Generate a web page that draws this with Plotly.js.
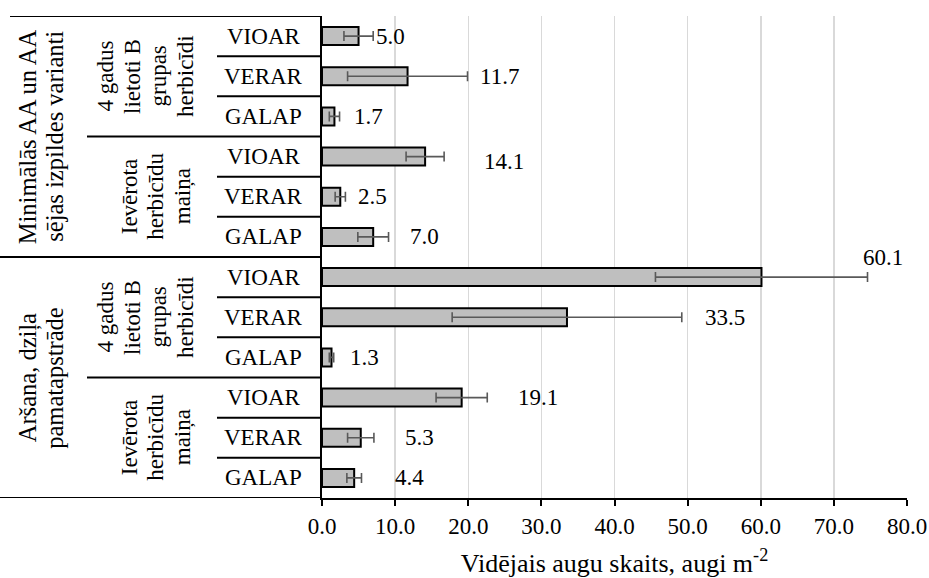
<!DOCTYPE html>
<html>
<head>
<meta charset="utf-8">
<script src="https://cdn.plot.ly/plotly-3.0.1.min.js"></script>
<style>html,body{margin:0;padding:0;background:#fff;}#chart{width:929px;height:578px;}</style>
</head>
<body>
<div id="chart"></div>
<script>
// ---- data ----
const tillage = ["Minimālās AA un AA<br>sējas izpildes varianti", "Aršana, dziļa<br>pamatapstrāde"];
const herbicideUse = ["4 gadus<br>lietoti B<br>grupas<br>herbicīdi", "Ievērota<br>herbicīdu<br>maiņa"];
const species = ["VIOAR", "VERAR", "GALAP"];
const rowTillage = [0,0,0,0,0,0,1,1,1,1,1,1];
const rowHerbicide = [0,0,0,1,1,1,0,0,0,1,1,1];
const rowSpecies = ["VIOAR","VERAR","GALAP","VIOAR","VERAR","GALAP","VIOAR","VERAR","GALAP","VIOAR","VERAR","GALAP"];
const values = [5.0, 11.7, 1.7, 14.1, 2.5, 7.0, 60.1, 33.5, 1.3, 19.1, 5.3, 4.4];
const errors = [2.0, 8.2, 0.7, 2.6, 0.7, 2.1, 14.5, 15.7, 0.3, 3.5, 1.8, 1.0];
const xTicks = [0,10,20,30,40,50,60,70,80];
const xTickText = ["0.0","10.0","20.0","30.0","40.0","50.0","60.0","70.0","80.0"];
const xTitle = "Vidējais augu skaits, augi m<sup>-2</sup>";

// ---- build ----
const cats = rowSpecies.map((s,i)=> "r"+i+"_"+s);
const FONT = "Liberation Serif";
const FS = 23;
const LINE_H = 26.5; // px between stacked rotated lines

const trace = {
  type: "bar", orientation: "h",
  x: values, y: cats,
  marker: {color: "#bfbfbf", line: {color: "#000", width: 2}},
  error_x: {type: "data", array: errors, visible: true, color: "#595959", thickness: 1.6, width: 5},
  hoverinfo: "x+y"
};

// label placement (pixel offsets beyond error bar end), styling only
const labelDx = [1, 10, 12, 38, 11, 19, -7, 21, 14, 29, 29, 32];
const labelDy = [0, 0, 0, -5, 0, 0, 20, 0, 0, 0, 0, 0];

const annotations = [];
values.forEach((v,i)=>{
  annotations.push({
    x: v + errors[i], y: cats[i], xref: "x", yref: "y",
    text: v.toFixed(1), showarrow: false, xanchor: "left", yanchor: "middle",
    xshift: labelDx[i], yshift: labelDy[i],
    font: {family: FONT, size: FS, color: "#000"}
  });
});

const W = 585, L = 322;
const px = p => (p - L) / W;

cats.forEach((c,i)=>{
  annotations.push({
    x: px(263), y: c, xref: "paper", yref: "y", text: rowSpecies[i],
    showarrow: false, xanchor: "center", yanchor: "middle",
    font: {family: FONT, size: FS, color: "#000"}
  });
});

// rotated multi-line text, one annotation per line
function rotatedBlock(text, cx, yMid, size) {
  const lines = text.split("<br>");
  const n = lines.length;
  lines.forEach((ln, k) => {
    const xc = cx + (k - (n - 1) / 2) * LINE_H;
    annotations.push({
      x: px(xc), y: yMid, xref: "paper", yref: "y",
      text: ln, textangle: -90, showarrow: false,
      xanchor: "center", yanchor: "middle",
      font: {family: FONT, size: size, color: "#000"}
    });
  });
}

for (let t = 0; t < tillage.length; t++) {
  for (let h = 0; h < herbicideUse.length; h++) {
    const idx = [];
    rowTillage.forEach((tv,i)=>{ if (tv===t && rowHerbicide[i]===h) idx.push(i); });
    const mid = (idx[0] + idx[idx.length-1]) / 2;
    rotatedBlock(herbicideUse[h], h === 0 ? 145 : 156, mid, FS);
  }
  const idx = [];
  rowTillage.forEach((tv,i)=>{ if (tv===t) idx.push(i); });
  const mid = (idx[0] + idx[idx.length-1]) / 2;
  rotatedBlock(tillage[t], 41, mid, 24.5);
}

const shapes = [];
const hline = (yv, x0) => shapes.push({type: "line", xref: "paper", yref: "y",
  x0: px(x0), x1: 0, y0: yv, y1: yv, line: {color: "#000", width: 2}});
for (let i = 0; i <= cats.length; i++) {
  const yv = i - 0.5;
  if (i === 0) hline(yv, 10);
  else if (i === cats.length || (rowTillage[i] !== rowTillage[i-1])) hline(yv, 0);
  else if (rowHerbicide[i] !== rowHerbicide[i-1]) hline(yv, 87);
  else hline(yv, 217);
}

const layout = {
  width: 929, height: 578,
  margin: {l: 322, r: 22, t: 16, b: 80},
  paper_bgcolor: "#fff", plot_bgcolor: "#fff",
  showlegend: false,
  bargap: 0.55,
  font: {family: FONT, size: FS, color: "#000"},
  xaxis: {
    range: [0, 80], tickvals: xTicks, ticktext: xTickText,
    showgrid: true, gridcolor: "#d9d9d9", gridwidth: 1.5,
    showline: true, linecolor: "#000", linewidth: 2,
    ticks: "outside", ticklen: 6, tickwidth: 2, tickcolor: "#000",
    zeroline: false,
    tickfont: {family: FONT, size: FS, color: "#000"},
    title: {text: xTitle, font: {family: FONT, size: 26, color: "#000"}, standoff: 17}
  },
  yaxis: {
    type: "category", categoryorder: "array", categoryarray: cats,
    range: [11.5, -0.5], showticklabels: false,
    showline: true, linecolor: "#000", linewidth: 2,
    ticks: "", showgrid: false, zeroline: false
  },
  annotations: annotations,
  shapes: shapes
};

Plotly.newPlot("chart", [trace], layout, {displayModeBar: false, staticPlot: true});
</script>
</body>
</html>
